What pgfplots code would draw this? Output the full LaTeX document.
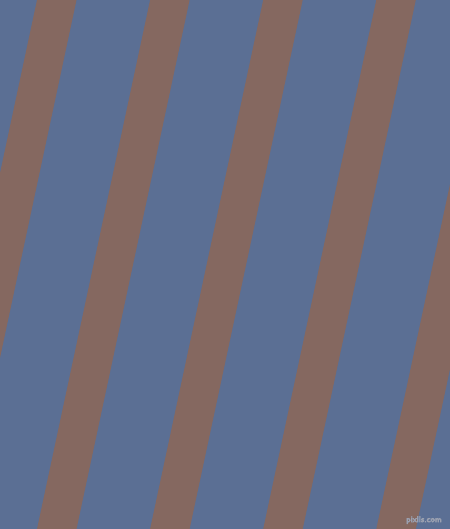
\documentclass[border=0pt]{standalone}
\usepackage{pgfplots}
\pgfplotsset{compat=1.18}
\definecolor{bgblue}{HTML}{5B6F94}
\definecolor{stripe}{HTML}{856860}
\definecolor{mark}{HTML}{9AA0B0}
\begin{document}
\begin{tikzpicture}
\begin{axis}[
  width=450bp, height=529bp, scale only axis,
  xmin=0, xmax=450, ymin=0, ymax=529, y dir=reverse,
  hide axis, clip=true,
]
% background
\addplot[fill=bgblue, draw=none] coordinates {(0,0) (450,0) (450,529) (0,529)};
% slanted stripes (image coordinates, y downwards)
\addplot[fill=stripe, draw=none] coordinates {(37.0,0) (76.5,0) (-36.6,529) (-76.1,529)};
\addplot[fill=stripe, draw=none] coordinates {(150.1,0) (189.6,0) (76.5,529) (37.0,529)};
\addplot[fill=stripe, draw=none] coordinates {(263.2,0) (302.7,0) (189.6,529) (150.1,529)};
\addplot[fill=stripe, draw=none] coordinates {(376.3,0) (415.8,0) (302.7,529) (263.2,529)};
\addplot[fill=stripe, draw=none] coordinates {(489.4,0) (528.9,0) (415.8,529) (376.3,529)};
% watermark: outlined text
\node[inner sep=0pt] at (axis cs:424,520) {%
  \special{pdf:literal 2 Tr 0.5 w 0.227 0.247 0.306 RG}%
  \textcolor{mark}{\fontsize{8.5}{8.5}\selectfont\sffamily pixlis.com}%
  \special{pdf:literal 0 Tr}};
\end{axis}
\pgfresetboundingbox
\path (current axis.south west) rectangle (current axis.north east);
\end{tikzpicture}
\end{document}
